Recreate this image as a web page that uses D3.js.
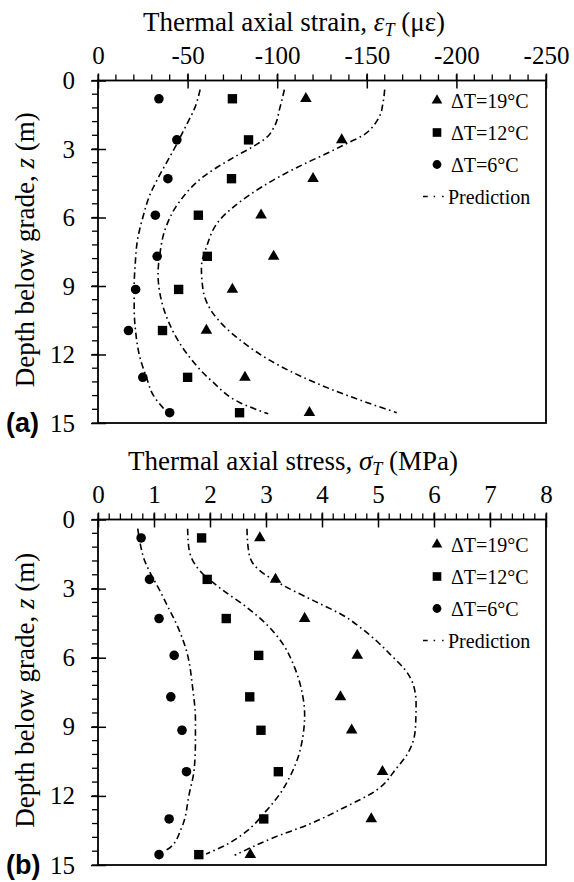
<!DOCTYPE html>
<html>
<head>
<meta charset="utf-8">
<script src="https://cdn.jsdelivr.net/npm/d3@7"></script>
<style>
  body { margin: 0; background: #fff; }
  svg { display: block; }
</style>
</head>
<body>
<svg id="chart" width="574" height="882"></svg>
<script>
// sensor depths (m)
const depths = [0.8, 2.6, 4.3, 5.9, 7.7, 9.15, 10.95, 13.0, 14.55];

// (a) measured thermal axial strain (με)
const strain19 = [-116, -136, -120, -91, -98, -75, -60.5, -82, -118];
const strain12 = [-75, -84, -74.5, -56, -61, -45, -36, -50, -79];
const strain6 = [-34, -44, -39, -32, -33, -21, -17, -25, -40];

// (b) measured thermal axial stress (MPa)
const stress19 = [2.89, 3.17, 3.69, 4.63, 4.33, 4.53, 5.08, 4.88, 2.72];
const stress12 = [1.85, 1.95, 2.29, 2.87, 2.71, 2.91, 3.22, 2.96, 1.80];
const stress6 = [0.77, 0.92, 1.09, 1.36, 1.30, 1.50, 1.58, 1.27, 1.09];

// predictions, [depth, value]
const predStrain19 = [[0.4,-160],[1.0,-159],[1.5,-157.5],[1.9,-154.5],[2.4,-148],[2.75,-139],[3.2,-127.5],[3.6,-116.5],[4.2,-101.5],[5.1,-83],[6.1,-68],[7.3,-60.5],[8.2,-57.7],[9.2,-58.7],[10.2,-64.2],[11.35,-79],[12.5,-101.5],[13.5,-129.4],[14.55,-166.7]];
const predStrain12 = [[0.4,-104],[1.2,-101.5],[2.0,-98.5],[2.5,-94],[2.8,-88.5],[3.4,-75],[4.2,-59],[5.3,-45.5],[6.4,-38],[7.6,-34.5],[8.5,-33.5],[9.3,-34.5],[10.5,-39],[11.9,-49],[13.2,-64],[14.1,-79],[14.6,-95]];
const predStrain6 = [[0.4,-57],[1.2,-54],[2.0,-49],[3.0,-42.5],[4.2,-34],[5.0,-29],[6.0,-25],[7.0,-22],[8.0,-20.8],[9.0,-20.2],[10.0,-20.2],[11.0,-21],[12.0,-23],[13.0,-27],[13.8,-31],[14.4,-37]];

const predStress19 = [[0.4,2.66],[1.2,2.68],[1.8,2.74],[2.2,2.88],[2.85,3.3],[3.5,3.83],[4.24,4.43],[4.66,4.67],[5.33,5.0],[5.81,5.2],[6.68,5.53],[7.25,5.64],[7.98,5.68],[9.0,5.67],[9.6,5.63],[10.16,5.53],[10.8,5.33],[11.76,4.97],[12.5,4.4],[13.2,3.8],[13.83,3.12],[14.58,2.44]];
const predStress12 = [[0.4,1.60],[1.2,1.62],[1.77,1.69],[2.2,1.81],[3.07,2.23],[3.8,2.65],[4.53,3.0],[5.4,3.30],[6.42,3.51],[7.58,3.65],[8.45,3.69],[9.4,3.66],[10.34,3.57],[11.2,3.42],[11.94,3.24],[12.66,3.0],[13.54,2.65],[14.12,2.29],[14.52,1.93]];
const predStress6 = [[0.4,0.71],[1.0,0.75],[1.77,0.83],[2.4,0.95],[3.07,1.10],[3.8,1.25],[4.53,1.40],[5.7,1.58],[7.3,1.69],[8.7,1.74],[9.6,1.74],[10.8,1.72],[11.9,1.63],[13.4,1.49],[14.26,1.28],[14.4,1.17]];

// ticks
const strainTicks = [0, -50, -100, -150, -200, -250];
const stressTicks = [0, 1, 2, 3, 4, 5, 6, 7, 8];
const depthTicks = [0, 3, 6, 9, 12, 15];
const legendLabels = ["\u0394T=19\u00B0C", "\u0394T=12\u00B0C", "\u0394T=6\u00B0C", "Prediction"];

const serif = "'Liberation Serif', 'Times New Roman', serif";
const svg = d3.select("#chart");
const shapes = [d3.symbolTriangle, d3.symbolSquare, d3.symbolCircle];
const sizes = [58, 88, 72];

function panel(cfg) {
  const { x, y, xTicks, xMinorStep, title, tag, obs, preds } = cfg;
  const [x0, x1] = x.range();
  const [y0, y1] = y.range();
  const g = svg.append("g");

  // title
  const t = g.append("text")
    .attr("x", cfg.titleX).attr("y", y0 - 50)
    .attr("text-anchor", "middle")
    .attr("font-family", serif).attr("font-size", 27);
  t.append("tspan").text(title[0]);
  t.append("tspan").attr("font-style", "italic").text(title[1]);
  t.append("tspan").attr("font-style", "italic").attr("font-size", 18).attr("dy", 5).text("T");
  t.append("tspan").attr("dy", -5).text(title[2]);

  // x axis on top
  const xa = g.append("g").attr("transform", `translate(0,${y0})`)
    .call(d3.axisTop(x).tickValues(xTicks).tickSize(7).tickPadding(10).tickSizeOuter(0).tickFormat(d => String(d)));
  xa.select(".domain").remove();
  xa.selectAll(".tick line").attr("y1", 8).attr("stroke-width", 1.5);
  xa.selectAll(".tick text").attr("fill", "#000")
    .attr("font-family", serif).attr("font-size", 25);

  const xDom = x.domain();
  const nMinor = Math.round(Math.abs(xDom[1] - xDom[0]) / xMinorStep);
  g.append("g").selectAll("line")
    .data(d3.range(nMinor + 1).map(i => xDom[0] + Math.sign(xDom[1] - xDom[0]) * i * xMinorStep))
    .join("line")
    .attr("x1", d => x(d)).attr("x2", d => x(d))
    .attr("y1", y0).attr("y2", y0 - 6)
    .attr("stroke", "#000").attr("stroke-width", 1.3);

  // y axis on left
  const ya = g.append("g").attr("transform", `translate(${x0},0)`)
    .call(d3.axisLeft(y).tickValues(depthTicks).tickSize(7).tickPadding(16).tickSizeOuter(0));
  ya.select(".domain").remove();
  ya.selectAll(".tick line").attr("x1", 8).attr("stroke-width", 1.5);
  ya.selectAll(".tick text").attr("fill", "#000")
    .attr("font-family", serif).attr("font-size", 25);

  g.append("g").selectAll("line")
    .data(d3.range(26).map(i => i * 0.6))
    .join("line")
    .attr("x1", x0).attr("x2", x0 - 6)
    .attr("y1", d => y(d)).attr("y2", d => y(d))
    .attr("stroke", "#000").attr("stroke-width", 1.3);

  // frame
  g.append("rect")
    .attr("x", x0).attr("y", y0).attr("width", x1 - x0).attr("height", y1 - y0)
    .attr("fill", "none").attr("stroke", "#000").attr("stroke-width", 1.8);

  // y label
  const yl = g.append("text")
    .attr("transform", `translate(34,${(y0 + y1) / 2 - 2}) rotate(-90)`)
    .attr("text-anchor", "middle")
    .attr("font-family", serif).attr("font-size", 27);
  yl.append("tspan").text("Depth below grade, ");
  yl.append("tspan").attr("font-style", "italic").text("z");
  yl.append("tspan").text(" (m)");

  // panel tag
  g.append("text")
    .attr("x", 6).attr("y", y1 + 9)
    .attr("font-family", "'Liberation Sans', Arial, sans-serif")
    .attr("font-weight", "bold").attr("font-size", 27)
    .text(tag);

  // prediction lines (depth increases monotonically along each curve)
  const line = d3.line()
    .x(d => x(d[1]))
    .y(d => y(d[0]))
    .curve(d3.curveMonotoneY);
  g.append("g").selectAll("path")
    .data(preds)
    .join("path")
    .attr("d", line)
    .attr("fill", "none")
    .attr("stroke", "#000")
    .attr("stroke-width", 1.6)
    .attr("stroke-dasharray", "6.5,3.5,1.6,3.5");

  // measured points
  obs.forEach((vals, k) => {
    g.append("g").selectAll("path")
      .data(vals)
      .join("path")
      .attr("transform", (v, i) => `translate(${x(v)},${y(depths[i])})`)
      .attr("d", d3.symbol(shapes[k], sizes[k]))
      .attr("fill", "#000");
  });

  // legend
  const lg = g.append("g").attr("transform", `translate(437,${y0 + cfg.legendOffset})`)
    .attr("font-family", serif).attr("font-size", 20);
  legendLabels.forEach((lab, i) => {
    const row = lg.append("g").attr("transform", `translate(0,${i * 32})`);
    if (i < 3) {
      row.append("path").attr("d", d3.symbol(shapes[i], sizes[i] * 0.85)).attr("fill", "#000");
      row.append("text").attr("x", 14).attr("dy", "0.35em").text(lab);
    } else {
      row.append("line").attr("x1", -14).attr("x2", 11).attr("y1", 0).attr("y2", 0)
        .attr("stroke", "#000").attr("stroke-width", 1.6)
        .attr("stroke-dasharray", "4.7,5.9,1.5,7,1.5,20");
      row.append("text").attr("x", 11).attr("dy", "0.35em").text(lab);
    }
  });
}

const xA = d3.scaleLinear().domain([0, -250]).range([98, 546]);
const yA = d3.scaleLinear().domain([0, 15]).range([80.5, 423]);
const xB = d3.scaleLinear().domain([0, 8]).range([98, 546]);
const yB = d3.scaleLinear().domain([0, 15]).range([519.5, 865]);

panel({
  x: xA, y: yA, xTicks: strainTicks, xMinorStep: 10,
  title: ["Thermal axial strain, ", "\u03B5", " (\u03BC\u03B5)"], titleX: 294,
  tag: "(a)",
  obs: [strain19, strain12, strain6],
  preds: [predStrain19, predStrain12, predStrain6],
  legendOffset: 20
});

panel({
  x: xB, y: yB, xTicks: stressTicks, xMinorStep: 0.2,
  title: ["Thermal axial stress, ", "\u03C3", " (MPa)"], titleX: 293,
  tag: "(b)",
  obs: [stress19, stress12, stress6],
  preds: [predStress19, predStress12, predStress6],
  legendOffset: 25
});
</script>
</body>
</html>
